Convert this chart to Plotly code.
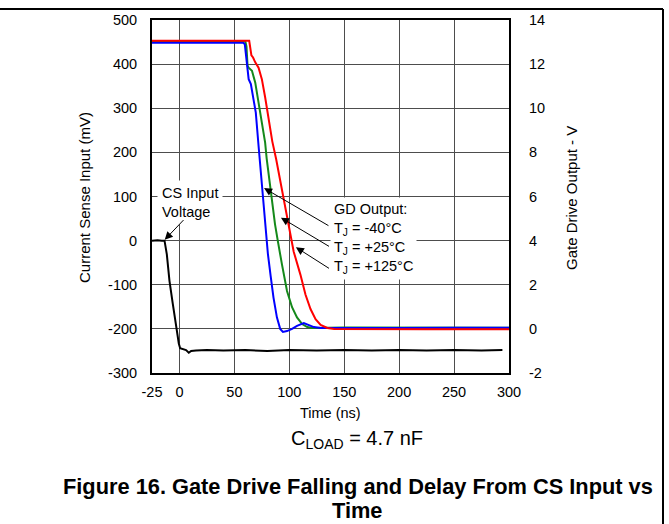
import plotly.graph_objects as go

# ---------------- data ----------------
x_ticks = [-25, 0, 50, 100, 150, 200, 250, 300]
y_left_ticks = [-300, -200, -100, 0, 100, 200, 300, 400, 500]
y_right_ticks = [-2, 0, 2, 4, 6, 8, 10, 12, 14]

# CS input voltage (mV, left axis)
time_cs = [-25, -20, -16, -13.6, -11.5, -9.1, -6.1, -3.0, -0.6, 0.6, 3, 6, 8.5, 10.6,
           15, 25, 40, 60, 80, 100, 125, 150, 175, 200, 225, 250, 275, 294]
cs_mv = [0, 1, 0, 0, -31, -91, -143, -196, -233, -244, -246, -248, -254, -250,
         -249, -248, -249, -248, -250, -248, -249, -248, -249, -248, -249, -248, -249, -248]

# Gate drive output (V, right axis)
time_m40 = [-25, 0, 30, 58, 59.5, 61.4, 63, 65, 67, 69.5, 72, 75.8, 78, 80.5, 83, 85.6,
            88.7, 91.7, 94.2, 97.9, 102.5, 107, 113.2, 117.8, 122.4, 128.5, 150, 200, 250, 300]
gd_m40 = [12.97, 12.96, 12.97, 12.97, 12.9, 11.92, 11.32, 11.1, 10.5, 9.8, 8.3, 6.22, 4.74,
          3.4, 2.4, 1.42, 0.52, 0.0, -0.14, -0.1, 0.0, 0.14, 0.26, 0.18, 0.08, 0.04, 0.05,
          0.04, 0.05, 0.05]

time_p25 = [-25, 0, 30, 60, 61, 62, 63, 66, 69, 72, 75, 78, 79.4, 83, 87, 89.5, 90.9, 93.3,
            97.9, 102.5, 107, 111.7, 116.3, 121, 150, 200, 250, 300]
gd_p25 = [13.02, 13.03, 13.02, 13.02, 12.8, 11.92, 11.84, 11.7, 11.16, 10.18, 9.3, 8.44, 7.72,
          6.22, 4.74, 4.0, 3.54, 2.92, 1.72, 0.98, 0.52, 0.22, 0.08, 0.04, 0.06, 0.05, 0.05, 0.05]

time_p125 = [-25, 0, 30, 63.5, 65.5, 67, 69, 72, 75, 78, 81, 84.5, 88, 92.4, 96, 100.5, 104,
             110.1, 114.7, 119.3, 123.9, 128.5, 134.7, 140.8, 175, 225, 300]
gd_p125 = [13.06, 13.07, 13.06, 13.06, 12.4, 12.3, 12.08, 11.84, 11.32, 10.5, 9.6, 8.5, 7.7,
           6.52, 5.48, 4.4, 3.5, 2.46, 1.56, 0.9, 0.44, 0.18, 0.04, 0.0, -0.02, -0.02, -0.02]

# ---------------- layout geometry ----------------
W, H = 669, 524
L, R, T, B = 152, 160, 16, 151
PW, PH = W - L - R, H - T - B


def px(x):
    return (x - L) / PW


def py(y):
    return (H - B - y) / PH


FONT = "Liberation Sans, Arial, Helvetica, sans-serif"
GRID = "#4d4d4d"

fig = go.Figure()
fig.add_trace(go.Scatter(x=time_cs, y=cs_mv, mode="lines", yaxis="y",
                         line=dict(color="black", width=2), name="CS Input Voltage"))
fig.add_trace(go.Scatter(x=time_p25, y=gd_p25, mode="lines", yaxis="y2",
                         line=dict(color="#14891a", width=2), name="TJ = +25°C"))
fig.add_trace(go.Scatter(x=time_m40, y=gd_m40, mode="lines", yaxis="y2",
                         line=dict(color="#0000ff", width=2), name="TJ = -40°C"))
fig.add_trace(go.Scatter(x=time_p125, y=gd_p125, mode="lines", yaxis="y2",
                         line=dict(color="#ff0000", width=2), name="TJ = +125°C"))

annotations = [
    # axis titles
    dict(text="Time (ns)", xref="paper", yref="paper", x=px(330), y=py(413),
         showarrow=False, font=dict(size=14.5), xanchor="center", yanchor="middle"),
    dict(text="Current Sense Input (mV)", xref="paper", yref="paper", x=px(85), y=py(196),
         textangle=-90, showarrow=False, font=dict(size=15), xanchor="center", yanchor="middle"),
    dict(text="Gate Drive Output - V", xref="paper", yref="paper", x=px(572), y=py(196),
         textangle=-90, showarrow=False, font=dict(size=15), xanchor="center", yanchor="middle"),
    # load note and caption
    dict(text="C<sub>LOAD</sub> = 4.7 nF", xref="paper", yref="paper", x=px(357), y=py(440.5),
         showarrow=False, font=dict(size=20), xanchor="center", yanchor="middle"),
    dict(text="<b>Figure 16. Gate Drive Falling and Delay From CS Input vs</b>", xref="paper",
         yref="paper", x=px(357.5), y=py(487.5), showarrow=False, font=dict(size=21.8),
         xanchor="center", yanchor="middle"),
    dict(text="<b>Time</b>", xref="paper", yref="paper", x=px(357), y=py(512.5),
         showarrow=False, font=dict(size=21.8), xanchor="center", yanchor="middle"),
    # in-plot labels
    dict(text="CS Input<br>Voltage", xref="x", yref="y", x=-20.4, y=137, xanchor="left",
         yanchor="top", align="left", showarrow=False, bgcolor="white", borderpad=4,
         font=dict(size=14.5)),
    dict(text="GD Output:<br>T<sub>J</sub> = -40°C<br>T<sub>J</sub> = +25°C<br>T<sub>J</sub> = +125°C",
         xref="x", yref="y", x=137, y=100, xanchor="left", yanchor="top", align="left",
         showarrow=False, bgcolor="white", borderpad=3, font=dict(size=14.5)),
]

arrow_style = dict(text="", showarrow=True, arrowhead=2, arrowsize=1.6, arrowwidth=1,
                   arrowcolor="black", xref="x", yref="y", axref="x", ayref="y")
for (hx, hy, tx, ty) in [(-13.4, 2, 5.0, 50), (77, 119, 137, 32),
                         (92.4, 52, 137.5, -15), (106, -15, 137.5, -65)]:
    annotations.append(dict(x=hx, y=hy, ax=tx, ay=ty, **arrow_style))

shapes = [
    dict(type="line", xref="paper", yref="paper", x0=px(0), x1=px(663), y0=py(5), y1=py(5),
         line=dict(color="black", width=2)),
    dict(type="line", xref="paper", yref="paper", x0=px(663), x1=px(663), y0=py(5), y1=py(H + 2),
         line=dict(color="black", width=2)),
]

fig.update_layout(
    width=W, height=H,
    margin=dict(l=L, r=R, t=T, b=B, pad=0),
    paper_bgcolor="white", plot_bgcolor="white",
    showlegend=False,
    font=dict(family=FONT, color="black", size=14.5),
    xaxis=dict(range=[-25, 300], tickvals=x_ticks, ticktext=[str(v) for v in x_ticks],
               showgrid=True, gridcolor=GRID, gridwidth=1.2, zeroline=False,
               showline=True, mirror=True, linecolor="black", linewidth=2,
               ticks="", ticklabelstandoff=5, tickfont=dict(size=14.5)),
    yaxis=dict(range=[-300, 500], tickvals=y_left_ticks, ticktext=[str(v) for v in y_left_ticks],
               showgrid=True, gridcolor=GRID, gridwidth=1.2, zeroline=False,
               showline=True, mirror=True, linecolor="black", linewidth=2,
               ticks="", ticklabelstandoff=10, tickfont=dict(size=14.5)),
    yaxis2=dict(range=[-2, 14], tickvals=y_right_ticks, ticktext=[str(v) for v in y_right_ticks],
                overlaying="y", side="right", showgrid=False, zeroline=False, showline=False,
                ticks="", ticklabelstandoff=19, tickfont=dict(size=14.5)),
    annotations=annotations,
    shapes=shapes,
)

fig.write_html("out.html", config={"displayModeBar": False},
               post_script="document.body.style.margin='0px';document.body.style.overflow='hidden';")
